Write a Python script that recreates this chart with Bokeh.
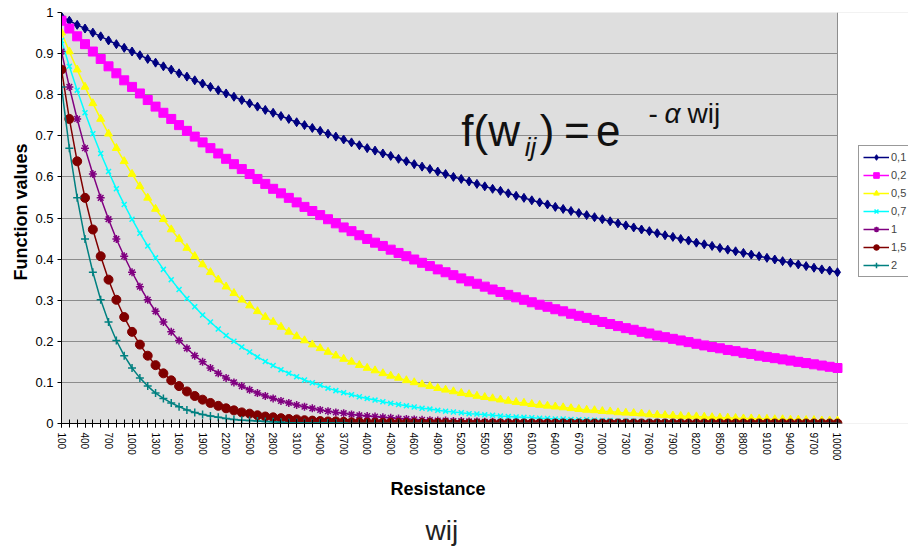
import math
from bokeh.plotting import figure
from bokeh.models import (Range1d, FixedTicker, CustomJSTickFormatter, Label,
                          Legend, LegendItem, ColumnDataSource, Title,
                          BoxAnnotation, Span)
from bokeh.embed import file_html
from bokeh.resources import INLINE

# ---------------- data ----------------
resistance = [100, 200, 300, 400, 500, 600, 700, 800, 900, 1000,
              1100, 1200, 1300, 1400, 1500, 1600, 1700, 1800, 1900, 2000,
              2100, 2200, 2300, 2400, 2500, 2600, 2700, 2800, 2900, 3000,
              3100, 3200, 3300, 3400, 3500, 3600, 3700, 3800, 3900, 4000,
              4100, 4200, 4300, 4400, 4500, 4600, 4700, 4800, 4900, 5000,
              5100, 5200, 5300, 5400, 5500, 5600, 5700, 5800, 5900, 6000,
              6100, 6200, 6300, 6400, 6500, 6600, 6700, 6800, 6900, 7000,
              7100, 7200, 7300, 7400, 7500, 7600, 7700, 7800, 7900, 8000,
              8100, 8200, 8300, 8400, 8500, 8600, 8700, 8800, 8900, 9000,
              9100, 9200, 9300, 9400, 9500, 9600, 9700, 9800, 9900, 10000]

s_0_1 = [0.990, 0.980, 0.970, 0.961, 0.951, 0.942, 0.932, 0.923, 0.914, 0.905,
         0.896, 0.887, 0.878, 0.869, 0.861, 0.852, 0.844, 0.835, 0.827, 0.819,
         0.811, 0.803, 0.795, 0.787, 0.779, 0.771, 0.763, 0.756, 0.748, 0.741,
         0.733, 0.726, 0.719, 0.712, 0.705, 0.698, 0.691, 0.684, 0.677, 0.670,
         0.664, 0.657, 0.651, 0.644, 0.638, 0.631, 0.625, 0.619, 0.613, 0.607,
         0.600, 0.595, 0.589, 0.583, 0.577, 0.571, 0.566, 0.560, 0.554, 0.549,
         0.543, 0.538, 0.533, 0.527, 0.522, 0.517, 0.512, 0.507, 0.502, 0.497,
         0.492, 0.487, 0.482, 0.477, 0.472, 0.468, 0.463, 0.458, 0.454, 0.449,
         0.445, 0.440, 0.436, 0.432, 0.427, 0.423, 0.419, 0.415, 0.411, 0.407,
         0.403, 0.399, 0.395, 0.391, 0.387, 0.383, 0.379, 0.375, 0.372, 0.368]

s_0_2 = [0.980, 0.961, 0.942, 0.923, 0.905, 0.887, 0.869, 0.852, 0.835, 0.819,
         0.803, 0.787, 0.771, 0.756, 0.741, 0.726, 0.712, 0.698, 0.684, 0.670,
         0.657, 0.644, 0.631, 0.619, 0.607, 0.595, 0.583, 0.571, 0.560, 0.549,
         0.538, 0.527, 0.517, 0.507, 0.497, 0.487, 0.477, 0.468, 0.458, 0.449,
         0.440, 0.432, 0.423, 0.415, 0.407, 0.399, 0.391, 0.383, 0.375, 0.368,
         0.361, 0.353, 0.346, 0.340, 0.333, 0.326, 0.320, 0.313, 0.307, 0.301,
         0.295, 0.289, 0.284, 0.278, 0.273, 0.267, 0.262, 0.257, 0.252, 0.247,
         0.242, 0.237, 0.232, 0.228, 0.223, 0.219, 0.214, 0.210, 0.206, 0.202,
         0.198, 0.194, 0.190, 0.186, 0.183, 0.179, 0.176, 0.172, 0.169, 0.165,
         0.162, 0.159, 0.156, 0.153, 0.150, 0.147, 0.144, 0.141, 0.138, 0.135]

s_0_5 = [0.951, 0.905, 0.861, 0.819, 0.779, 0.741, 0.705, 0.670, 0.638, 0.607,
         0.577, 0.549, 0.522, 0.497, 0.472, 0.449, 0.427, 0.407, 0.387, 0.368,
         0.350, 0.333, 0.317, 0.301, 0.287, 0.273, 0.259, 0.247, 0.235, 0.223,
         0.212, 0.202, 0.192, 0.183, 0.174, 0.165, 0.157, 0.150, 0.142, 0.135,
         0.129, 0.122, 0.116, 0.111, 0.105, 0.100, 0.095, 0.091, 0.086, 0.082,
         0.078, 0.074, 0.071, 0.067, 0.064, 0.061, 0.058, 0.055, 0.052, 0.050,
         0.047, 0.045, 0.043, 0.041, 0.039, 0.037, 0.035, 0.033, 0.032, 0.030,
         0.029, 0.027, 0.026, 0.025, 0.024, 0.022, 0.021, 0.020, 0.019, 0.018,
         0.017, 0.017, 0.016, 0.015, 0.014, 0.014, 0.013, 0.012, 0.012, 0.011,
         0.011, 0.010, 0.010, 0.009, 0.009, 0.008, 0.008, 0.007, 0.007, 0.007]

s_0_7 = [0.932, 0.869, 0.811, 0.756, 0.705, 0.657, 0.613, 0.571, 0.533, 0.497,
         0.463, 0.432, 0.403, 0.375, 0.350, 0.326, 0.304, 0.284, 0.264, 0.247,
         0.230, 0.214, 0.200, 0.186, 0.174, 0.162, 0.151, 0.141, 0.131, 0.122,
         0.114, 0.106, 0.099, 0.093, 0.086, 0.080, 0.075, 0.070, 0.065, 0.061,
         0.057, 0.053, 0.049, 0.046, 0.043, 0.040, 0.037, 0.035, 0.032, 0.030,
         0.028, 0.026, 0.024, 0.023, 0.021, 0.020, 0.018, 0.017, 0.016, 0.015,
         0.014, 0.013, 0.012, 0.011, 0.011, 0.010, 0.009, 0.009, 0.008, 0.007,
         0.007, 0.006, 0.006, 0.006, 0.005, 0.005, 0.005, 0.004, 0.004, 0.004,
         0.003, 0.003, 0.003, 0.003, 0.003, 0.002, 0.002, 0.002, 0.002, 0.002,
         0.002, 0.002, 0.001, 0.001, 0.001, 0.001, 0.001, 0.001, 0.001, 0.001]

s_1 = [0.905, 0.819, 0.741, 0.670, 0.607, 0.549, 0.497, 0.449, 0.407, 0.368,
       0.333, 0.301, 0.273, 0.247, 0.223, 0.202, 0.183, 0.165, 0.150, 0.135,
       0.122, 0.111, 0.100, 0.091, 0.082, 0.074, 0.067, 0.061, 0.055, 0.050,
       0.045, 0.041, 0.037, 0.033, 0.030, 0.027, 0.025, 0.022, 0.020, 0.018,
       0.017, 0.015, 0.014, 0.012, 0.011, 0.010, 0.009, 0.008, 0.007, 0.007,
       0.006, 0.006, 0.005, 0.005, 0.004, 0.004, 0.003, 0.003, 0.003, 0.002,
       0.002, 0.002, 0.002, 0.002, 0.002, 0.001, 0.001, 0.001, 0.001, 0.001,
       0.001, 0.001, 0.001, 0.001, 0.001, 0.000, 0.000, 0.000, 0.000, 0.000,
       0.000, 0.000, 0.000, 0.000, 0.000, 0.000, 0.000, 0.000, 0.000, 0.000,
       0.000, 0.000, 0.000, 0.000, 0.000, 0.000, 0.000, 0.000, 0.000, 0.000]

s_1_5 = [0.861, 0.741, 0.638, 0.549, 0.472, 0.407, 0.350, 0.301, 0.259, 0.223,
         0.192, 0.165, 0.142, 0.122, 0.105, 0.091, 0.078, 0.067, 0.058, 0.050,
         0.043, 0.037, 0.032, 0.027, 0.024, 0.020, 0.017, 0.015, 0.013, 0.011,
         0.010, 0.008, 0.007, 0.006, 0.005, 0.005, 0.004, 0.003, 0.003, 0.002,
         0.002, 0.002, 0.002, 0.001, 0.001, 0.001, 0.001, 0.001, 0.001, 0.001,
         0.000, 0.000, 0.000, 0.000, 0.000, 0.000, 0.000, 0.000, 0.000, 0.000,
         0.000, 0.000, 0.000, 0.000, 0.000, 0.000, 0.000, 0.000, 0.000, 0.000,
         0.000, 0.000, 0.000, 0.000, 0.000, 0.000, 0.000, 0.000, 0.000, 0.000,
         0.000, 0.000, 0.000, 0.000, 0.000, 0.000, 0.000, 0.000, 0.000, 0.000,
         0.000, 0.000, 0.000, 0.000, 0.000, 0.000, 0.000, 0.000, 0.000, 0.000]

s_2 = [0.819, 0.670, 0.549, 0.449, 0.368, 0.301, 0.247, 0.202, 0.165, 0.135,
       0.111, 0.091, 0.074, 0.061, 0.050, 0.041, 0.033, 0.027, 0.022, 0.018,
       0.015, 0.012, 0.010, 0.008, 0.007, 0.006, 0.005, 0.004, 0.003, 0.002,
       0.002, 0.002, 0.001, 0.001, 0.001, 0.001, 0.001, 0.000, 0.000, 0.000,
       0.000, 0.000, 0.000, 0.000, 0.000, 0.000, 0.000, 0.000, 0.000, 0.000,
       0.000, 0.000, 0.000, 0.000, 0.000, 0.000, 0.000, 0.000, 0.000, 0.000,
       0.000, 0.000, 0.000, 0.000, 0.000, 0.000, 0.000, 0.000, 0.000, 0.000,
       0.000, 0.000, 0.000, 0.000, 0.000, 0.000, 0.000, 0.000, 0.000, 0.000,
       0.000, 0.000, 0.000, 0.000, 0.000, 0.000, 0.000, 0.000, 0.000, 0.000,
       0.000, 0.000, 0.000, 0.000, 0.000, 0.000, 0.000, 0.000, 0.000, 0.000]

series_labels = ["0,1", "0,2", "0,5", "0,7", "1", "1,5", "2"]
series_values = [s_0_1, s_0_2, s_0_5, s_0_7, s_1, s_1_5, s_2]

x_ticks = [100, 400, 700, 1000, 1300, 1600, 1900, 2200, 2500, 2800, 3100,
           3400, 3700, 4000, 4300, 4600, 4900, 5200, 5500, 5800, 6100, 6400,
           6700, 7000, 7300, 7600, 7900, 8200, 8500, 8800, 9100, 9400, 9700,
           10000]
y_ticks = [0, 0.1, 0.2, 0.3, 0.4, 0.5, 0.6, 0.7, 0.8, 0.9, 1.0]

# ---------------- styles ----------------
colors = ["#000080", "#FF00FF", "#FFFF00", "#00FFFF", "#800080", "#800000", "#008080"]
markers = ["diamond", "square", "triangle", "x", "asterisk", "circle", "cross"]
msizes = [9, 9, 8, 7, 8, 9, 8]
FONT = "Liberation Sans"
PLOT_BG = "#dedede"
GRID = "#8c8c8c"

X_MIN, X_MAX = resistance[0], resistance[-1]

p = figure(width=908, height=549, output_backend="svg", toolbar_location=None,
           x_range=Range1d(X_MIN, 10906), y_range=Range1d(0, 1),
           min_border_left=61, min_border_right=0, min_border_top=12,
           min_border_bottom=126)
p.background_fill_color = PLOT_BG
p.border_fill_color = "white"
p.outline_line_color = None

# white area right of the plot area (legend region), plus plot-area border
p.add_layout(BoxAnnotation(left=X_MAX, fill_color="white", fill_alpha=1,
                           line_color=None, level="underlay"))
p.add_layout(Span(location=X_MAX, dimension="height", line_color=GRID,
                  line_width=1, level="underlay"))

items = []
for lab, vals, col, mk, ms in zip(series_labels, series_values, colors, markers, msizes):
    src = ColumnDataSource(dict(x=resistance, y=vals))
    lr = p.line("x", "y", source=src, line_color=col, line_width=1.5)
    if mk in ("x", "asterisk", "cross"):
        sr = p.scatter("x", "y", source=src, marker=mk, size=ms,
                       line_color=col, line_width=1.5)
    else:
        sr = p.scatter("x", "y", source=src, marker=mk, size=ms,
                       fill_color=col, line_color=col)
    items.append(LegendItem(label=lab, renderers=[lr, sr]))

# axes
p.xaxis.bounds = (X_MIN, X_MAX)
p.xaxis.ticker = FixedTicker(ticks=x_ticks, minor_ticks=resistance)
p.xaxis.major_label_orientation = "vertical"
p.xaxis.major_label_text_font = FONT
p.xaxis.major_label_text_font_size = "10px"
p.xaxis.major_label_text_color = "black"
p.xaxis.major_label_standoff = 5
p.xaxis.major_tick_in = 4
p.xaxis.major_tick_out = 4
p.xaxis.minor_tick_in = 4
p.xaxis.minor_tick_out = 4
p.xaxis.axis_line_color = "black"
p.xaxis.major_tick_line_color = "black"
p.xaxis.minor_tick_line_color = "black"

p.yaxis.ticker = FixedTicker(ticks=y_ticks)
p.yaxis.formatter = CustomJSTickFormatter(code="return String(Math.round(tick*10)/10);")
p.yaxis.major_label_text_font = FONT
p.yaxis.major_label_text_font_size = "13px"
p.yaxis.major_label_text_color = "black"
p.yaxis.major_label_standoff = 4
p.yaxis.major_tick_in = 0
p.yaxis.major_tick_out = 4
p.yaxis.minor_tick_line_color = None
p.yaxis.axis_line_color = "black"
p.yaxis.major_tick_line_color = "black"

p.xgrid.grid_line_color = None
p.ygrid.ticker = FixedTicker(ticks=y_ticks)
p.ygrid.bounds = (X_MIN, X_MAX)
p.ygrid.grid_line_color = GRID
p.ygrid.grid_line_width = 1

# axis titles as side titles (offset places them like the reference)
p.add_layout(Title(text="Function values", align="left", offset=143,
                   text_font=FONT, text_font_size="18px", text_font_style="bold",
                   text_color="black", standoff=4), "left")
p.add_layout(Title(text="Resistance", align="left", offset=329,
                   text_font=FONT, text_font_size="18px", text_font_style="bold",
                   text_color="black", standoff=27), "below")
p.add_layout(Title(text="wij", align="left", offset=364,
                   text_font=FONT, text_font_size="28px", text_font_style="normal",
                   text_color="#222222", standoff=0), "below")

# formula f(w_ij) = e^(- alpha wij)
def piece(x, y, t, size, style="normal"):
    p.add_layout(Label(x=x, y=y, text=t, text_align="left",
                       text_baseline="alphabetic", text_font=FONT,
                       text_font_size=size, text_font_style=style,
                       text_color="#111111"))

piece(5200, 0.713, "f(w", "44px")
piece(6010, 0.672, "ij", "26px", "italic")
piece(6200, 0.713, ")", "44px")
piece(6510, 0.713, "=", "44px")
piece(6920, 0.713, "e", "44px")
piece(7589, 0.754, "-", "28px")
piece(7793, 0.754, "\u03b1", "28px", "italic")
piece(8087, 0.754, "wij", "28px")

legend = Legend(items=items, location=(797, 146))
legend.border_line_color = "#333333"
legend.border_line_width = 1
legend.background_fill_color = "white"
legend.background_fill_alpha = 1
legend.label_text_font = FONT
legend.label_text_font_size = "11px"
legend.glyph_width = 26
legend.glyph_height = 14
legend.label_height = 14
legend.label_standoff = 2
legend.spacing = 4
legend.padding = 4
legend.margin = 0
p.add_layout(legend)

open("out.html", "w").write(file_html(p, INLINE))
